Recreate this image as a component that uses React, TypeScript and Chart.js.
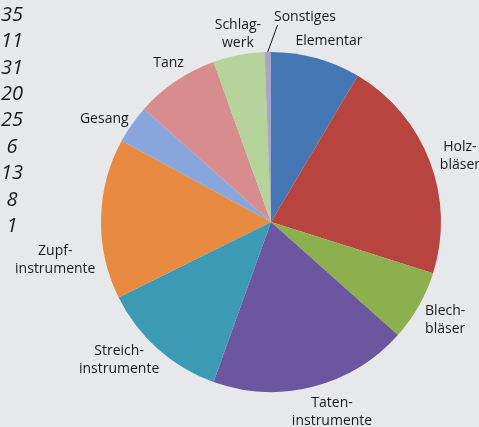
import React, { useEffect, useRef } from "react";
import { Chart, registerables } from "chart.js";

Chart.register(...registerables);

const categories = [
  "Elementar",
  "Holzbläser",
  "Blechbläser",
  "Tateninstrumente",
  "Streichinstrumente",
  "Zupfinstrumente",
  "Gesang",
  "Tanz",
  "Schlagwerk",
  "Sonstiges",
];
const labelLines = [
  ["Elementar"],
  ["Holz-", "bläser"],
  ["Blech-", "bläser"],
  ["Taten-", "instrumente"],
  ["Streich-", "instrumente"],
  ["Zupf-", "instrumente"],
  ["Gesang"],
  ["Tanz"],
  ["Schlag-", "werk"],
  ["Sonstiges"],
];
const values = [14, 35, 11, 31, 20, 25, 6, 13, 8, 1];

const colors = [
  "#4677b5",
  "#b8443f",
  "#8db04f",
  "#6c56a0",
  "#3b9bb5",
  "#e88a40",
  "#88a6db",
  "#d78d8d",
  "#b5d49b",
  "#aaa4c6",
];
// label placement style: angle nudge (deg) and distance from centre (px)
const labelNudge = [
  [2.4, 190],
  [1.7, 200],
  [-0.2, 200],
  [-3.5, 200],
  [6.1, 205],
  [-11, 219],
  [-3.4, 196],
  [1.2, 189],
  [1, 191],
  [10.5, 208],
];

const labelPlugin = {
  id: "outsideLabels",
  afterDraw(chart: any) {
    const ctx = chart.ctx;
    const meta = chart.getDatasetMeta(0);
    ctx.save();
    ctx.fillStyle = "#1a1a1a";
    ctx.font = '14px "Open Sans"';
    ctx.textAlign = "center";
    ctx.textBaseline = "middle";
    meta.data.forEach((arc: any, i: number) => {
      const p = arc.getProps(["x", "y", "startAngle", "endAngle", "outerRadius"], true);
      const mid = (p.startAngle + p.endAngle) / 2;
      const a = mid + (labelNudge[i][0] * Math.PI) / 180;
      const d = labelNudge[i][1];
      const cx = p.x + Math.cos(a) * d;
      const cy = p.y + Math.sin(a) * d;
      const lines = labelLines[i];
      const lh = 18;
      lines.forEach((t, j) => {
        ctx.fillText(t, cx, cy + (j - (lines.length - 1) / 2) * lh);
      });
      if (i === labelLines.length - 1) {
        // leader line
        const a2 = mid + (3 * Math.PI) / 180;
        ctx.strokeStyle = "#1a1a1a";
        ctx.lineWidth = 1;
        ctx.beginPath();
        ctx.moveTo(p.x + Math.cos(mid) * p.outerRadius, p.y + Math.sin(mid) * p.outerRadius);
        ctx.lineTo(p.x + Math.cos(a2) * (p.outerRadius + 27), p.y + Math.sin(a2) * (p.outerRadius + 27));
        ctx.stroke();
      }
    });
    // value column on the left
    ctx.font = 'italic 20px "Open Sans"';
    values.forEach((v, i) => {
      ctx.fillText(String(v), 12, 15 + (i - 1) * 26.4);
    });
    ctx.restore();
  },
};

export default function App() {
  const ref = useRef<HTMLCanvasElement>(null);
  useEffect(() => {
    document.body.style.margin = "0";
    document.body.style.background = "#e7e8ea";
    const chart = new Chart(ref.current!, {
      type: "pie",
      data: {
        labels: categories,
        datasets: [
          {
            data: values,
            backgroundColor: colors,
            borderWidth: 0,
          },
        ],
      },
      options: {
        animation: false,
        responsive: true,
        maintainAspectRatio: false,
        layout: { padding: { top: 52, bottom: 35, left: 101, right: 38 } },
        plugins: { legend: { display: false }, tooltip: { enabled: false } },
      },
      plugins: [labelPlugin],
    });
    return () => chart.destroy();
  }, []);
  return (
    <div style={{ width: 479, height: 427, background: "#e7e8ea", position: "relative" }}>
      <canvas ref={ref} />
    </div>
  );
}
